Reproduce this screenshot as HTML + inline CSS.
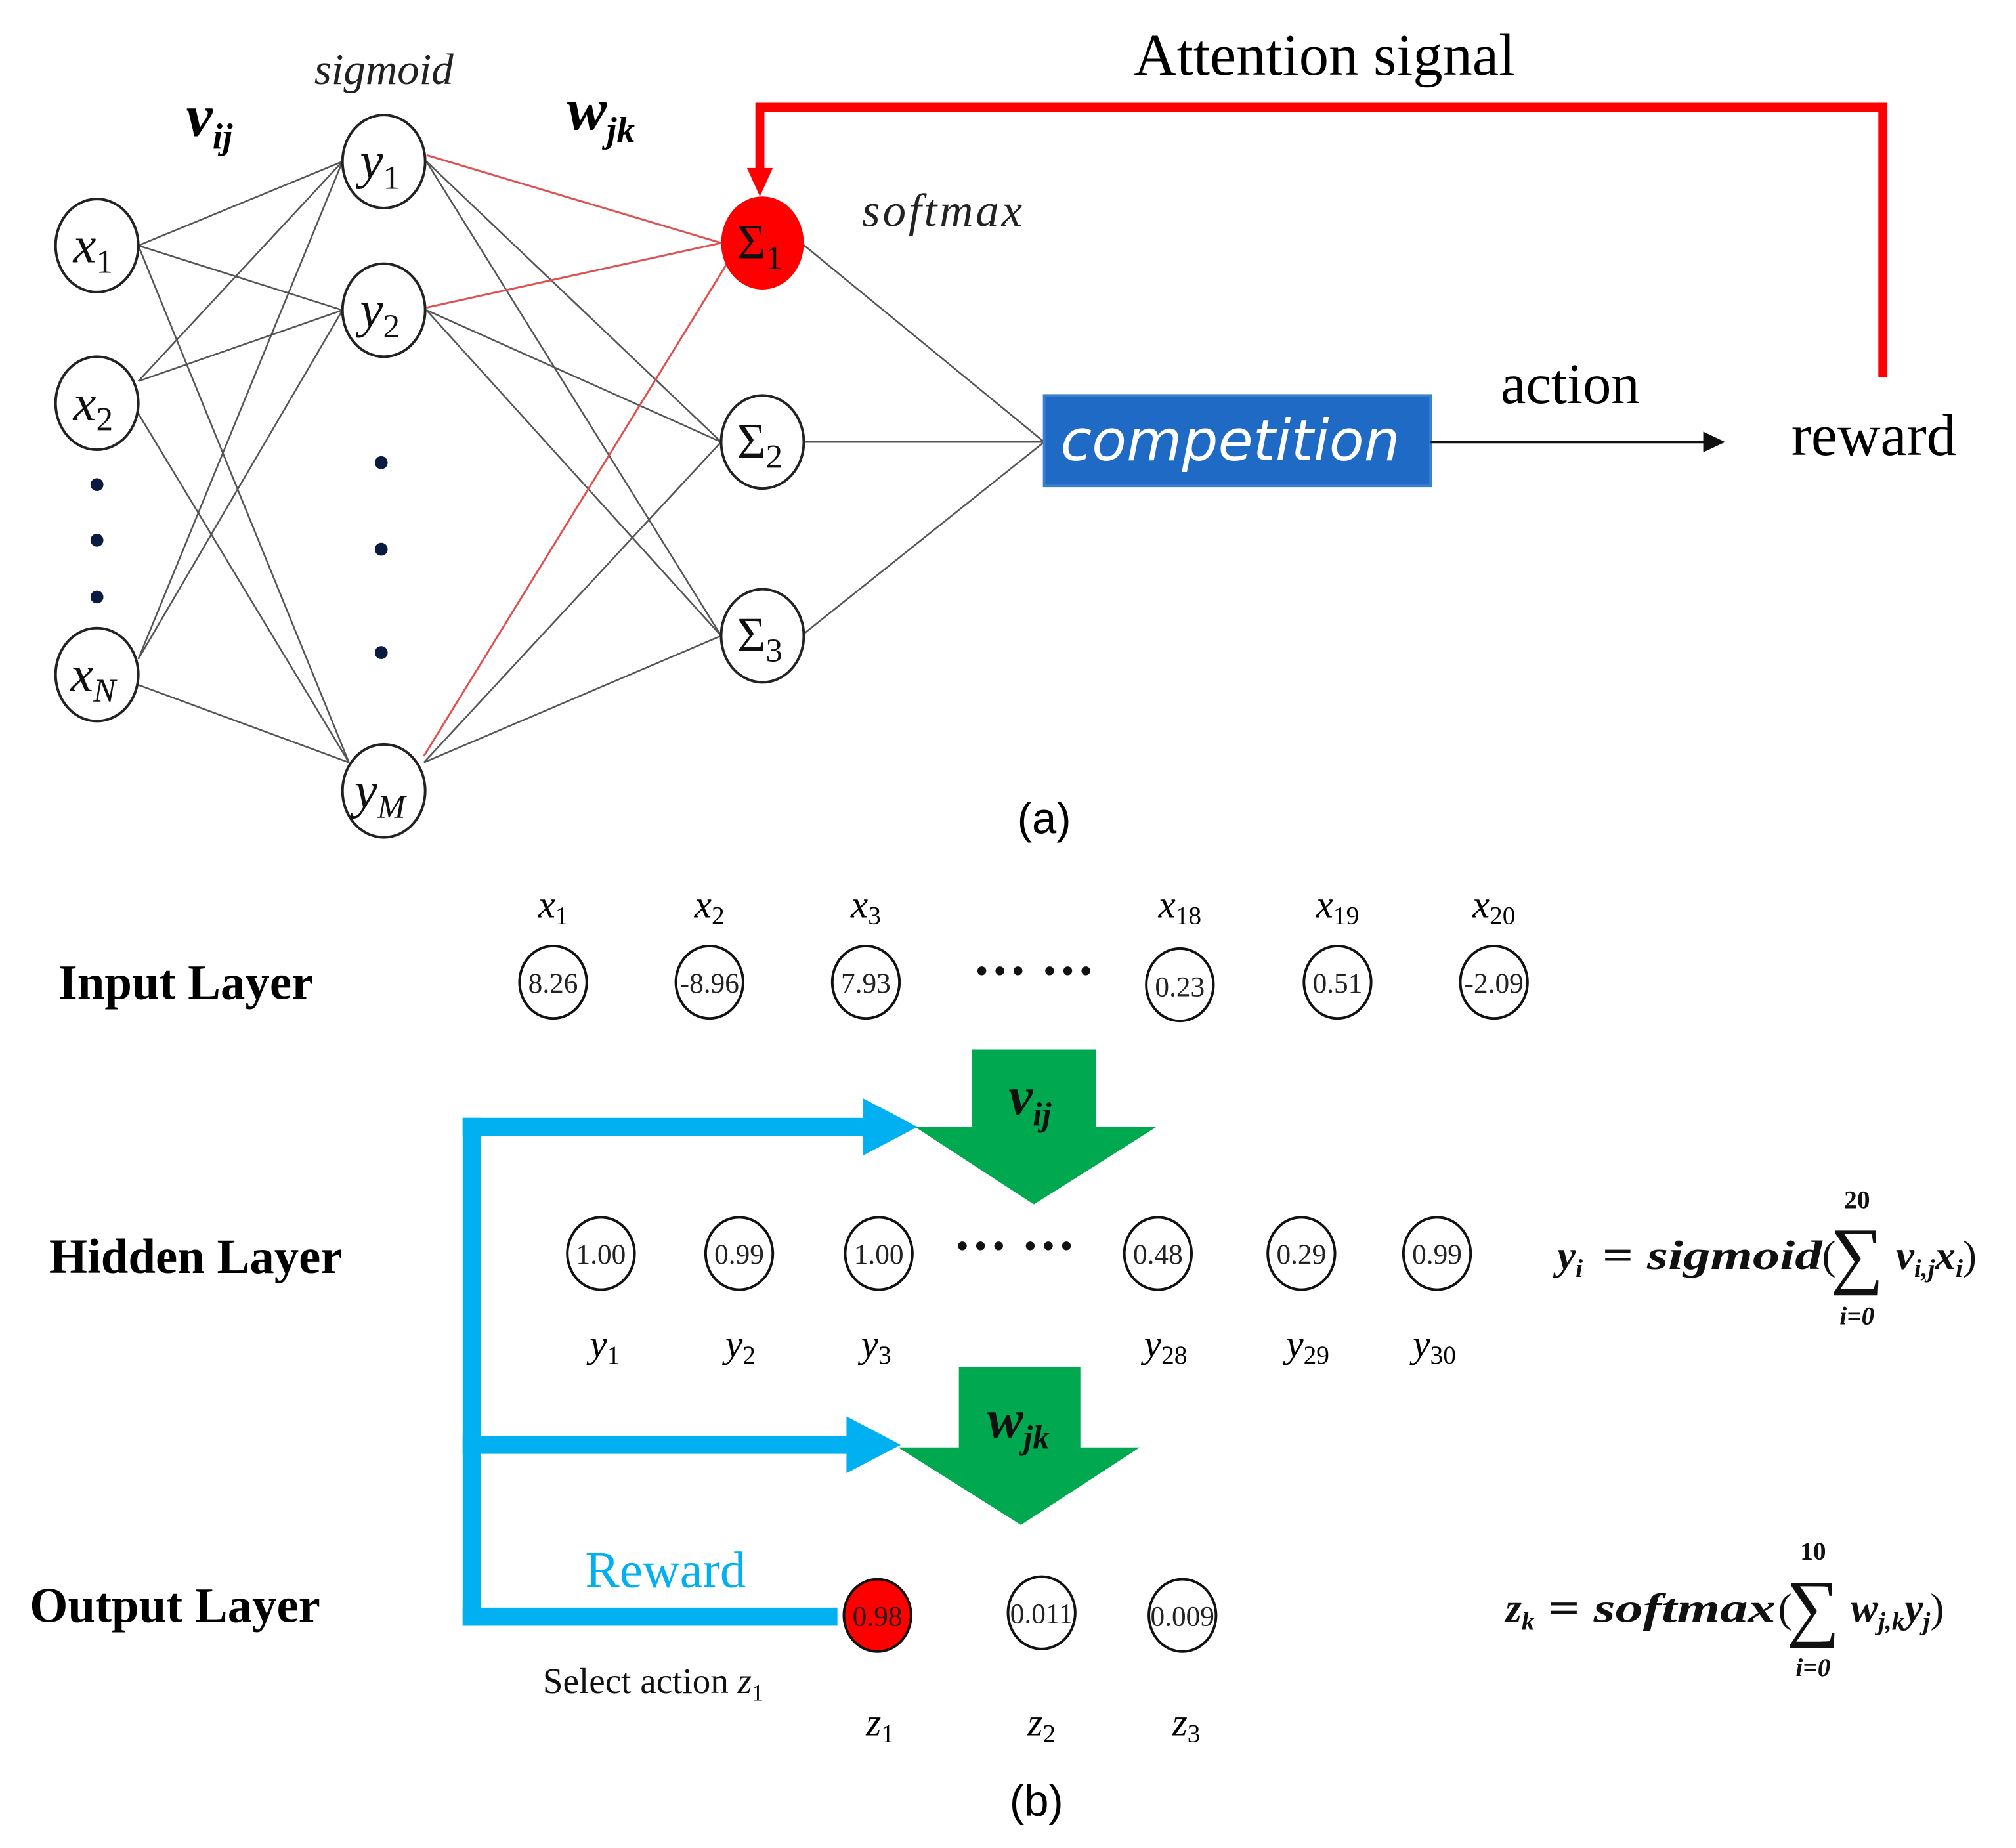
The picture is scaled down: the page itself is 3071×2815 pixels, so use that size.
<!DOCTYPE html>
<html><head><meta charset="utf-8"><style>html,body{margin:0;padding:0;background:#fff}svg{display:block}</style></head>
<body>
<svg width="3071" height="2815" viewBox="0 0 1560 1430" xmlns="http://www.w3.org/2000/svg" font-family="Liberation Serif, serif">
<rect width="1560" height="1430" fill="#fff"/>
<g stroke="#555" stroke-width="1.3">
<line x1="107" y1="190" x2="265" y2="125"/><line x1="107" y1="190" x2="265" y2="240"/><line x1="107" y1="190" x2="270" y2="590"/>
<line x1="107" y1="295" x2="265" y2="125"/><line x1="107" y1="295" x2="265" y2="240"/><line x1="107" y1="320" x2="270" y2="590"/>
<line x1="107" y1="510" x2="265" y2="125"/><line x1="107" y1="510" x2="265" y2="240"/><line x1="107" y1="530" x2="270" y2="590"/>
<line x1="330" y1="125" x2="558" y2="342"/><line x1="330" y1="125" x2="558" y2="492"/>
<line x1="330" y1="240" x2="558" y2="342"/><line x1="330" y1="240" x2="558" y2="492"/>
<line x1="328" y1="590" x2="558" y2="342"/><line x1="328" y1="590" x2="558" y2="492"/>
<line x1="620" y1="188" x2="808" y2="342"/><line x1="620" y1="342" x2="808" y2="342"/><line x1="620" y1="492" x2="808" y2="342"/>
</g>
<g stroke="#e05050" stroke-width="1.5">
<line x1="330" y1="120" x2="558" y2="188"/><line x1="330" y1="238" x2="558" y2="188"/><line x1="328" y1="585" x2="565" y2="200"/>
</g>
<g fill="#fff" stroke="#222" stroke-width="2">
<ellipse cx="75" cy="190" rx="32" ry="36"/><ellipse cx="75" cy="312" rx="32" ry="36"/><ellipse cx="75" cy="522" rx="32" ry="36"/>
<ellipse cx="297" cy="125" rx="32" ry="36"/><ellipse cx="297" cy="240" rx="32" ry="36"/><ellipse cx="297" cy="612" rx="32" ry="36"/>
<ellipse cx="590" cy="342" rx="32" ry="36"/><ellipse cx="590" cy="492" rx="32" ry="36"/>
</g>
<ellipse cx="590" cy="188" rx="32" ry="36" fill="#f00"/>
<g fill="#0a1a40"><circle cx="75" cy="375" r="5"/><circle cx="75" cy="418" r="5"/><circle cx="75" cy="462" r="5"/>
<circle cx="295" cy="358" r="5"/><circle cx="295" cy="425" r="5"/><circle cx="295" cy="505" r="5"/></g>
<g font-style="italic" font-size="40" fill="#111" text-anchor="middle">
<text x="72" y="203">x<tspan font-size="26" dy="8" font-style="normal">1</tspan></text>
<text x="72" y="325">x<tspan font-size="26" dy="8" font-style="normal">2</tspan></text>
<text x="72" y="535">x<tspan font-size="26" dy="8">N</tspan></text>
<text x="294" y="138">y<tspan font-size="26" dy="8" font-style="normal">1</tspan></text>
<text x="294" y="253">y<tspan font-size="26" dy="8" font-style="normal">2</tspan></text>
<text x="294" y="625">y<tspan font-size="26" dy="8">M</tspan></text>
</g>
<g font-size="38" fill="#111" text-anchor="middle">
<text x="588" y="200">Σ<tspan font-size="26" dy="8">1</tspan></text>
<text x="588" y="354">Σ<tspan font-size="26" dy="8">2</tspan></text>
<text x="588" y="504">Σ<tspan font-size="26" dy="8">3</tspan></text>
</g>
<text x="162" y="105" font-size="46" font-weight="bold" font-style="italic" text-anchor="middle">v<tspan font-size="28" dy="10">ij</tspan></text>
<text x="465" y="100" font-size="46" font-weight="bold" font-style="italic" text-anchor="middle">w<tspan font-size="28" dy="10">jk</tspan></text>
<text x="297" y="65" font-size="34" font-style="italic" text-anchor="middle" fill="#222">sigmoid</text>
<text x="730" y="175" font-size="36" font-style="italic" text-anchor="middle" fill="#222" letter-spacing="2">softmax</text>
<text x="1025" y="58" font-size="46" text-anchor="middle">Attention signal</text>
<polyline points="1457,292 1457,83 588,83 588,135" fill="none" stroke="#f00" stroke-width="7"/>
<polygon points="578,130 598,130 588,152" fill="#f00"/>
<rect x="808" y="306" width="299" height="70" fill="#1f6ac4" stroke="#3a7fd0" stroke-width="2"/>
<text x="952" y="356" font-family="DejaVu Sans, sans-serif" font-style="italic" font-size="44" fill="#fff" text-anchor="middle">competition</text>
<line x1="1107" y1="342" x2="1320" y2="342" stroke="#111" stroke-width="2"/>
<polygon points="1318,334 1335,342 1318,350" fill="#111"/>
<text x="1215" y="312" font-size="44" text-anchor="middle">action</text>
<text x="1450" y="352" font-size="46" text-anchor="middle">reward</text>
<text x="808" y="645" font-family="Liberation Sans, sans-serif" font-size="34" text-anchor="middle">(a)</text>
<g font-weight="bold" font-size="38" fill="#000">
<text x="45" y="773">Input Layer</text><text x="38" y="985">Hidden Layer</text><text x="23" y="1255">Output Layer</text>
</g>
<g font-style="italic" font-size="30" text-anchor="middle">
<text x="428" y="710">x<tspan font-size="20" dy="5" font-style="normal">1</tspan></text>
<text x="549" y="710">x<tspan font-size="20" dy="5" font-style="normal">2</tspan></text>
<text x="670" y="710">x<tspan font-size="20" dy="5" font-style="normal">3</tspan></text>
<text x="913" y="710">x<tspan font-size="20" dy="5" font-style="normal">18</tspan></text>
<text x="1035" y="710">x<tspan font-size="20" dy="5" font-style="normal">19</tspan></text>
<text x="1156" y="710">x<tspan font-size="20" dy="5" font-style="normal">20</tspan></text>
<text x="468" y="1050">y<tspan font-size="20" dy="5" font-style="normal">1</tspan></text>
<text x="573" y="1050">y<tspan font-size="20" dy="5" font-style="normal">2</tspan></text>
<text x="678" y="1050">y<tspan font-size="20" dy="5" font-style="normal">3</tspan></text>
<text x="902" y="1050">y<tspan font-size="20" dy="5" font-style="normal">28</tspan></text>
<text x="1012" y="1050">y<tspan font-size="20" dy="5" font-style="normal">29</tspan></text>
<text x="1110" y="1050">y<tspan font-size="20" dy="5" font-style="normal">30</tspan></text>
<text x="681" y="1343">z<tspan font-size="20" dy="5" font-style="normal">1</tspan></text>
<text x="806" y="1343">z<tspan font-size="20" dy="5" font-style="normal">2</tspan></text>
<text x="918" y="1343">z<tspan font-size="20" dy="5" font-style="normal">3</tspan></text>
</g>
<g fill="#fff" stroke="#111" stroke-width="2">
<ellipse cx="428" cy="760" rx="26" ry="28"/><ellipse cx="549" cy="760" rx="26" ry="28"/><ellipse cx="670" cy="760" rx="26" ry="28"/>
<ellipse cx="913" cy="762" rx="26" ry="28"/><ellipse cx="1035" cy="760" rx="26" ry="28"/><ellipse cx="1156" cy="760" rx="26" ry="28"/>
<ellipse cx="465" cy="970" rx="26" ry="28"/><ellipse cx="572" cy="970" rx="26" ry="28"/><ellipse cx="680" cy="970" rx="26" ry="28"/>
<ellipse cx="896" cy="970" rx="26" ry="28"/><ellipse cx="1007" cy="970" rx="26" ry="28"/><ellipse cx="1112" cy="970" rx="26" ry="28"/>
<ellipse cx="806" cy="1248" rx="26" ry="28"/><ellipse cx="915" cy="1250" rx="26" ry="28"/>
</g>
<ellipse cx="679" cy="1250" rx="26" ry="28" fill="#f00" stroke="#111" stroke-width="2"/>
<g font-size="22" text-anchor="middle" fill="#222">
<text x="428" y="768">8.26</text><text x="549" y="768">-8.96</text><text x="670" y="768">7.93</text>
<text x="913" y="771">0.23</text><text x="1035" y="768">0.51</text><text x="1156" y="768">-2.09</text>
<text x="465" y="978">1.00</text><text x="572" y="978">0.99</text><text x="680" y="978">1.00</text>
<text x="896" y="978">0.48</text><text x="1007" y="978">0.29</text><text x="1112" y="978">0.99</text>
<text x="679" y="1258">0.98</text><text x="806" y="1256">0.011</text><text x="915" y="1258">0.009</text>
</g>
<g font-size="42" font-weight="bold" fill="#111" text-anchor="middle">
<text x="800" y="765">··· ···</text><text x="785" y="978">··· ···</text>
</g>
<polygon points="752,812 848,812 848,872 895,872 800,932 708,872 752,872" fill="#00a84f"/>
<polygon points="742,1058 836,1058 836,1120 882,1120 790,1180 695,1120 742,1120" fill="#00a84f"/>
<text x="797" y="862" font-size="42" font-style="italic" font-weight="bold" text-anchor="middle" fill="#111">v<tspan font-size="26" dy="9">ij</tspan></text>
<text x="788" y="1112" font-size="42" font-style="italic" font-weight="bold" text-anchor="middle" fill="#111">w<tspan font-size="26" dy="9">jk</tspan></text>
<g fill="#00b0f0">
<rect x="358" y="865" width="14" height="393"/>
<rect x="358" y="865" width="322" height="14"/>
<polygon points="668,850 710,872 668,894"/>
<rect x="358" y="1111" width="302" height="14"/>
<polygon points="655,1096 697,1118 655,1140"/>
<rect x="358" y="1244" width="290" height="14"/>
</g>
<text x="515" y="1228" font-size="40" fill="#00b0f0" text-anchor="middle">Reward</text>
<text x="420" y="1310" font-size="28" fill="#111">Select action <tspan font-style="italic">z</tspan><tspan font-size="18" dy="6">1</tspan></text>
<g font-weight="bold" font-style="italic" fill="#111">
<text x="1205" y="982" font-size="32">y<tspan font-size="20" dy="6">i</tspan></text>
<text x="1240" y="982" font-size="32" textLength="170" lengthAdjust="spacingAndGlyphs"><tspan font-style="normal">=</tspan> sigmoid</text>
<text x="1410" y="982" font-size="32" font-weight="normal" font-style="normal">(</text>
<text x="1437" y="990" font-size="58" font-style="normal" font-weight="normal" text-anchor="middle">∑</text>
<text x="1437" y="935" font-size="20" font-style="normal" text-anchor="middle">20</text>
<text x="1437" y="1025" font-size="20" text-anchor="middle">i=0</text>
<text x="1467" y="982" font-size="32">v<tspan font-size="20" dy="6">i,j</tspan><tspan dy="-6">x</tspan><tspan font-size="20" dy="6">i</tspan><tspan dy="-6" font-style="normal" font-weight="normal">)</tspan></text>
<text x="1165" y="1255" font-size="32">z<tspan font-size="20" dy="6">k</tspan></text>
<text x="1198" y="1255" font-size="32" textLength="176" lengthAdjust="spacingAndGlyphs"><tspan font-style="normal">=</tspan> softmax</text>
<text x="1376" y="1255" font-size="32" font-weight="normal" font-style="normal">(</text>
<text x="1403" y="1263" font-size="58" font-style="normal" font-weight="normal" text-anchor="middle">∑</text>
<text x="1403" y="1207" font-size="20" font-style="normal" text-anchor="middle">10</text>
<text x="1403" y="1297" font-size="20" text-anchor="middle">i=0</text>
<text x="1432" y="1255" font-size="32">w<tspan font-size="20" dy="6">j,k</tspan><tspan dy="-6">y</tspan><tspan font-size="20" dy="6">j</tspan><tspan dy="-6" font-style="normal" font-weight="normal">)</tspan></text>
</g>
<text x="802" y="1405" font-family="Liberation Sans, sans-serif" font-size="34" text-anchor="middle">(b)</text>
</svg>
</body></html>
